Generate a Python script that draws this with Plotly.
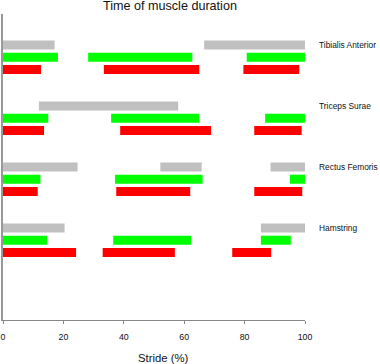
import plotly.graph_objects as go

muscles = ["Tibialis Anterior", "Triceps Surae", "Rectus Femoris", "Hamstring"]

# Segments (start, end) in % stride, per muscle
gray_segments = [
    [(0, 17.1), (66.6, 100)],
    [(11.9, 58.0)],
    [(0, 24.7), (52.1, 65.8), (88.6, 100)],
    [(0, 20.4), (85.4, 100)],
]
green_segments = [
    [(0, 18.2), (28.2, 62.7), (80.7, 100)],
    [(0, 15.0), (35.8, 65.0), (86.8, 100)],
    [(0, 12.4), (37.1, 66.1), (95.0, 100)],
    [(0, 14.6), (36.5, 62.3), (85.4, 95.3)],
]
red_segments = [
    [(0, 12.6), (33.4, 65.0), (79.6, 98.1)],
    [(0, 13.6), (38.8, 68.9), (83.2, 98.9)],
    [(0, 11.5), (37.5, 62.0), (83.2, 99.1)],
    [(0, 24.2), (33.0, 56.9), (75.9, 88.8)],
]
x_ticks = [0, 20, 40, 60, 80, 100]

series = [
    (gray_segments, "#c0c0c0", 0),
    (green_segments, "#00ff00", 1),
    (red_segments, "#ff0000", 2),
]
GROUP_STEP = 5

fig = go.Figure()
for segs, color, lane in series:
    bases, lengths, ys = [], [], []
    for gi, muscle_segs in enumerate(segs):
        for (s, e) in muscle_segs:
            bases.append(s)
            lengths.append(e - s)
            ys.append(gi * GROUP_STEP + lane)
    fig.add_trace(go.Bar(
        x=lengths, y=ys, base=bases, orientation="h",
        marker=dict(color=color, line=dict(width=0)),
        width=0.74, showlegend=False, hoverinfo="skip",
    ))

for gi, m in enumerate(muscles):
    fig.add_annotation(
        x=(319 - 3) / 302, xref="paper", y=gi * GROUP_STEP, yref="y",
        text=m, showarrow=False, xanchor="left", yanchor="middle",
        xshift=-2,
        font=dict(family="Liberation Sans, Arial", size=8.4, color="#111"),
    )

fig.add_annotation(
    x=(170 - 3) / 302, xref="paper", y=1, yref="paper", yshift=8,
    text="Time of muscle duration", showarrow=False,
    xanchor="center", yanchor="middle",
    font=dict(family="Liberation Sans, Arial", size=12.6, color="#111"),
)
fig.add_annotation(
    x=(162.5 - 3) / 302, xref="paper", y=0, yref="paper", yshift=-38,
    text="Stride (%)", showarrow=False,
    xanchor="center", yanchor="middle",
    font=dict(family="Liberation Sans, Arial", size=11.3, color="#111"),
)

fig.update_layout(
    width=380, height=364,
    margin=dict(l=3, r=75, t=14, b=44, autoexpand=False),
    paper_bgcolor="white", plot_bgcolor="white",
    barmode="overlay",
    xaxis=dict(
        range=[0, 100], tickvals=x_ticks, ticktext=[str(v) for v in x_ticks],
        showline=True, linecolor="#888", linewidth=1,
        ticks="outside", ticklen=3, tickcolor="#888",
        ticklabelstandoff=5,
        showgrid=False, zeroline=False, automargin=False,
        tickfont=dict(family="Liberation Sans, Arial", size=8.8, color="#111"),
        fixedrange=True,
    ),
    yaxis=dict(
        range=[22.54, -2.54], showline=True, linecolor="#999", linewidth=2,
        showticklabels=False, ticks="", showgrid=False, zeroline=False,
        automargin=False, fixedrange=True,
    ),
)

fig.write_html(
    "out.html",
    config={"displayModeBar": False},
    post_script="document.body.style.margin='0';document.body.style.overflow='hidden';",
)
